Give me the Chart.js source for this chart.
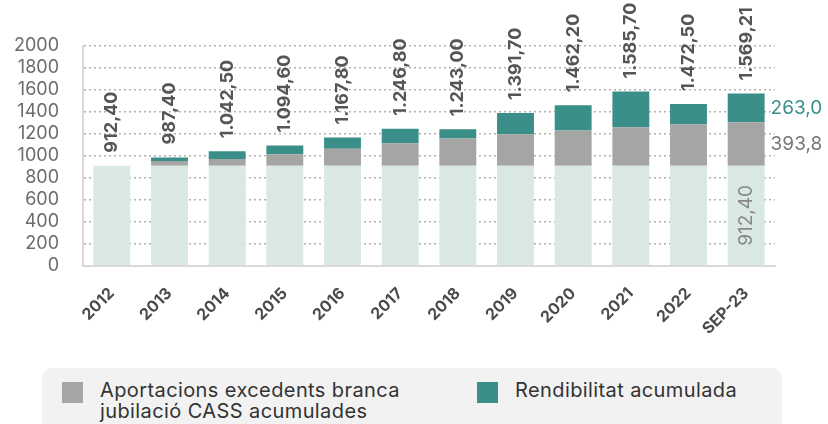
<!DOCTYPE html>
<html>
<head>
<meta charset="utf-8">
<script src="https://cdn.jsdelivr.net/npm/chart.js@4.4.0/dist/chart.umd.min.js"></script>
<style>
  html, body { margin: 0; padding: 0; background: #fff; }
  #wrap { position: relative; width: 828px; height: 424px; overflow: hidden; }
  #legend {
    position: absolute; left: 42px; top: 368px; width: 740px; height: 80px;
    background: #f2f2f2; border-radius: 10px;
    font-family: Inter, "Open Sans", sans-serif; font-size: 20px; color: #333;
    letter-spacing: 0.4px;
  }
  .item { position: absolute; top: 12px; display: flex; }
  .item .box { width: 21px; height: 21px; margin-top: 2px; flex: none; }
  .item .txt { margin-left: 17px; line-height: 21px; }
</style>
</head>
<body>
<div id="wrap">
  <canvas id="chart" width="828" height="424"></canvas>
  <div id="legend"></div>
</div>
<script>
// dades del gràfic
const categories = ['2012', '2013', '2014', '2015', '2016', '2017', '2018', '2019', '2020', '2021', '2022', 'SEP-23'];
const base = [912.4, 912.4, 912.4, 912.4, 912.4, 912.4, 912.4, 912.4, 912.4, 912.4, 912.4, 912.4];
const aportacions = [0, 42, 60, 103, 154, 203, 246, 285, 319, 349, 376, 393.8];
const rendibilitat = [0, 33, 70.1, 79.2, 101.4, 131.4, 84.6, 194.3, 230.8, 324.3, 184.1, 263.01];
const yTicks = [0, 200, 400, 600, 800, 1000, 1200, 1400, 1600, 1800, 2000];

const FONT = 'Inter, "Open Sans", sans-serif';
const C_BASE = '#d9e8e3';
const C_GRAY = '#a5a5a5';
const C_TEAL = '#3a8f89';

// format català: 1.234,50
function fmt(v, dec) {
    const parts = v.toFixed(dec).split('.');
    parts[0] = parts[0].replace(/\B(?=(\d{3})+(?!\d))/g, '.');
    return parts.join(',');
}

// etiquetes dels totals i de l'última barra
const labelsPlugin = {
    id: 'barLabels',
    afterDatasetsDraw(chart) {
        const ctx = chart.ctx;
        const top = chart.getDatasetMeta(2).data;
        const mid = chart.getDatasetMeta(1).data;
        const low = chart.getDatasetMeta(0).data;
        ctx.save();
        for (let i = 0; i < categories.length; i++) {
            const total = base[i] + aportacions[i] + rendibilitat[i];
            const bar = top[i];
            ctx.save();
            ctx.translate(bar.x, bar.y - 13);
            ctx.rotate(-Math.PI / 2);
            ctx.font = 'bold 18px ' + FONT;
            ctx.fillStyle = '#555';
            ctx.textAlign = 'left';
            ctx.textBaseline = 'middle';
            ctx.fillText(fmt(total, 2), 0, 0);
            ctx.restore();
        }
        const last = categories.length - 1;
        const t = top[last], m = mid[last], b = low[last];
        ctx.font = '19px ' + FONT;
        ctx.textAlign = 'left';
        ctx.textBaseline = 'middle';
        ctx.fillStyle = C_TEAL;
        ctx.fillText(fmt(rendibilitat[last], 1), t.x + t.width / 2 + 6, (t.y + t.base) / 2);
        ctx.fillStyle = '#777';
        ctx.fillText(fmt(aportacions[last], 1), m.x + m.width / 2 + 6, (m.y + m.base) / 2);
        ctx.save();
        ctx.translate(b.x, (b.y + b.base) / 2);
        ctx.rotate(-Math.PI / 2);
        ctx.textAlign = 'center';
        ctx.fillStyle = '#888';
        ctx.fillText(fmt(base[last], 2), 0, 0);
        ctx.restore();
        ctx.restore();
    }
};

const chart = new Chart(document.getElementById('chart'), {
    type: 'bar',
    data: {
        labels: categories,
        datasets: [{
            label: 'Base',
            data: base,
            backgroundColor: C_BASE
        }, {
            label: 'Aportacions excedents branca jubilació CASS acumulades',
            data: aportacions,
            backgroundColor: C_GRAY
        }, {
            label: 'Rendibilitat acumulada',
            data: rendibilitat,
            backgroundColor: C_TEAL
        }]
    },
    options: {
        responsive: false,
        animation: false,
        layout: { padding: { top: 46, right: 53, left: 0, bottom: 0 } },
        datasets: { bar: { barPercentage: 0.64, categoryPercentage: 1 } },
        plugins: { legend: { display: false }, tooltip: { enabled: false } },
        scales: {
            x: {
                stacked: true,
                grid: { display: false },
                border: { display: true, color: '#d9d9d9', width: 2 },
                ticks: {
                    minRotation: 45, maxRotation: 45, padding: 10, autoSkip: false,
                    color: '#4a4a4a', font: { family: FONT, size: 16, weight: 'bold' }
                },
                afterFit(scale) { scale.height = 158; }
            },
            y: {
                stacked: true,
                min: 0, max: 2000,
                afterBuildTicks(scale) { scale.ticks = yTicks.map(v => ({ value: v })); },
                grid: { color: '#b0b0b0', lineWidth: 1.5, drawTicks: false },
                border: { display: true, color: '#d9d9d9', width: 2, dash: [2, 3] },
                ticks: {
                    padding: 24, autoSkip: false, color: '#6b6b6b', font: { family: FONT, size: 18 },
                    callback: v => String(v)
                },
                afterFit(scale) { scale.width = 83; }
            }
        }
    },
    plugins: [labelsPlugin]
});

// llegenda HTML
const legend = document.getElementById('legend');
[[1, 20], [2, 435]].forEach(([idx, left]) => {
    const ds = chart.data.datasets[idx];
    const el = document.createElement('div');
    el.className = 'item';
    el.style.left = left + 'px';
    const text = idx === 1 ? 'Aportacions excedents branca<br>jubilació CASS acumulades' : ds.label;
    el.innerHTML = '<div class="box" style="background:' + ds.backgroundColor + '"></div><div class="txt">' + text + '</div>';
    legend.appendChild(el);
});
</script>
</body>
</html>
